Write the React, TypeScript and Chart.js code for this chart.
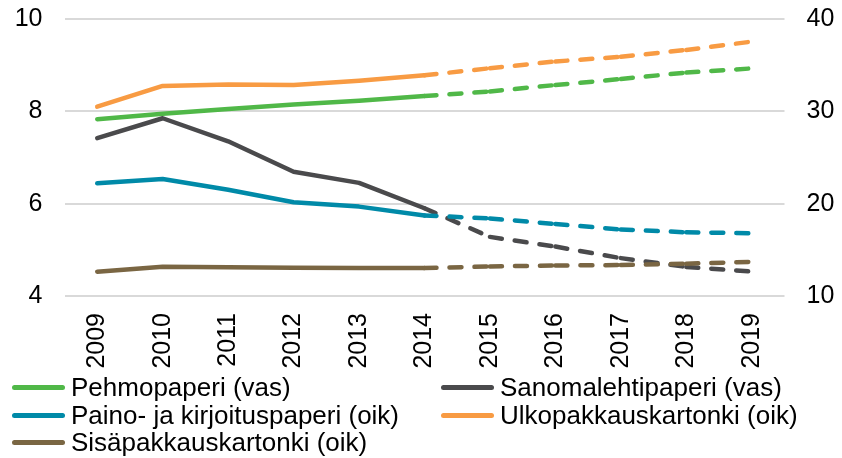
import React, { useEffect, useRef } from "react";
import { Chart, registerables } from "chart.js";

Chart.register(...registerables);

const categories = ["2009", "2010", "2011", "2012", "2013", "2014", "2015", "2016", "2017", "2018", "2019"];
const pehmopaperi = [7.83, 7.95, 8.05, 8.15, 8.23, 8.33, 8.43, 8.57, 8.7, 8.84, 8.93];
const sanomalehtipaperi = [7.42, 7.85, 7.35, 6.69, 6.45, 5.9, 5.28, 5.07, 4.82, 4.63, 4.53];
const painoKirjoituspaperi = [22.2, 22.68, 21.5, 20.15, 19.68, 18.72, 18.4, 17.8, 17.2, 16.9, 16.8];
const ulkopakkauskartonki = [30.5, 32.75, 32.9, 32.85, 33.3, 33.9, 34.67, 35.4, 35.9, 36.65, 37.55];
const sisapakkauskartonki = [12.63, 13.17, 13.12, 13.07, 13.03, 13.02, 13.2, 13.3, 13.35, 13.5, 13.7];
const leftTicks = [4, 6, 8, 10];
const rightTicks = [10, 20, 30, 40];
const forecastStart = 5;

const series = [
  { label: "Pehmopaperi (vas)", data: pehmopaperi, color: "#50B848", axis: "y" },
  { label: "Sanomalehtipaperi (vas)", data: sanomalehtipaperi, color: "#4A4A4C", axis: "y" },
  { label: "Paino- ja kirjoituspaperi (oik)", data: painoKirjoituspaperi, color: "#008AA8", axis: "y1" },
  { label: "Ulkopakkauskartonki (oik)", data: ulkopakkauskartonki, color: "#F89B43", axis: "y1" },
  { label: "Sisäpakkauskartonki (oik)", data: sisapakkauskartonki, color: "#7A6643", axis: "y1" },
];

const FONT = "'Liberation Sans', Arial, sans-serif";
const CLEAR = "rgba(0,0,0,0)";

const legendPos = [
  { left: 12, top: 372 },
  { left: 441, top: 372 },
  { left: 12, top: 400 },
  { left: 441, top: 400 },
  { left: 12, top: 427 },
];

export default function App() {
  const ref = useRef<HTMLCanvasElement | null>(null);

  useEffect(() => {
    if (!ref.current) return;
    const chart = new Chart(ref.current, {
      type: "line",
      data: {
        labels: categories,
        datasets: series.map((s, i) => ({
          label: s.label,
          data: s.data,
          yAxisID: s.axis,
          borderColor: s.color,
          backgroundColor: s.color,
          borderWidth: 4.5,
          borderCapStyle: "round",
          borderJoinStyle: "round",
          pointRadius: 0,
          pointHoverRadius: 0,
          tension: 0,
          fill: false,
          order: series.length - i,
          segment: {
            borderDash: (ctx: any) => (ctx.p0DataIndex >= forecastStart ? [12, 13] : []),
            borderDashOffset: (ctx: any) =>
              ctx.p0DataIndex >= forecastStart && ctx.p0DataIndex % 2 === 1 ? 0.001 : 0,
          },
        })) as any,
      },
      options: {
        responsive: false,
        animation: false,
        devicePixelRatio: 1,
        layout: { padding: { left: 14.7, right: 7.7, top: 19, bottom: 89.4 } },
        plugins: { legend: { display: false }, tooltip: { enabled: false } },
        scales: {
          x: {
            offset: true,
            grid: { display: true, drawOnChartArea: false, drawTicks: true, tickLength: 17, tickColor: CLEAR },
            border: { display: false },
            ticks: {
              maxRotation: 90,
              minRotation: 90,
              padding: 0,
              color: "#000",
              font: { family: FONT, size: 25 },
            },
          },
          y: {
            position: "left",
            min: leftTicks[0],
            max: leftTicks[leftTicks.length - 1],
            afterBuildTicks: (axis: any) => {
              axis.ticks = leftTicks.map((v) => ({ value: v }));
            },
            grid: { color: "#D9D9D9", lineWidth: 2, drawTicks: true, tickLength: 22, tickColor: CLEAR },
            border: { display: false },
            ticks: { padding: 0, color: "#000", font: { family: FONT, size: 25 } },
          },
          y1: {
            position: "right",
            min: rightTicks[0],
            max: rightTicks[rightTicks.length - 1],
            afterBuildTicks: (axis: any) => {
              axis.ticks = rightTicks.map((v) => ({ value: v }));
            },
            grid: { display: true, drawOnChartArea: false, drawTicks: true, tickLength: 22, tickColor: CLEAR },
            border: { display: false },
            ticks: { padding: 0, color: "#000", font: { family: FONT, size: 25 } },
          },
        },
      },
    });
    return () => chart.destroy();
  }, []);

  return (
    <div style={{ position: "fixed", left: 0, top: 0, width: 842, height: 458, background: "#fff", overflow: "hidden" }}>
      <canvas ref={ref} width={842} height={458} style={{ display: "block", width: 842, height: 458 }} />
      {series.map((s, i) => (
        <div
          key={s.label}
          style={{
            position: "absolute",
            left: legendPos[i].left,
            top: legendPos[i].top,
            height: 30,
            display: "flex",
            alignItems: "center",
            whiteSpace: "nowrap",
            fontFamily: FONT,
            fontSize: 26,
            lineHeight: "30px",
            color: "#000",
          }}
        >
          <span style={{ display: "inline-block", width: 53, height: 5, borderRadius: 2.5, background: s.color, marginRight: 6 }} />
          <span>{s.label}</span>
        </div>
      ))}
    </div>
  );
}
